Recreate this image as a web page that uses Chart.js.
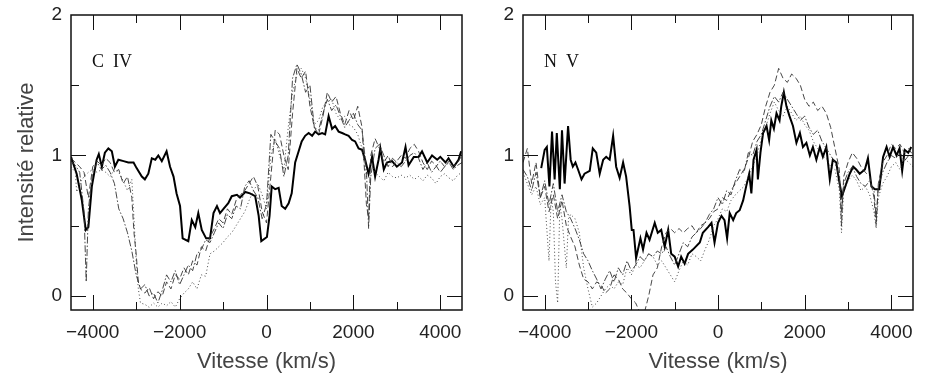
<!DOCTYPE html>
<html>
<head>
<meta charset="utf-8">
<script src="https://cdn.jsdelivr.net/npm/chart.js@4.4.1/dist/chart.umd.min.js"></script>
<style>
  html, body { margin: 0; padding: 0; background: #fff; }
  .panel { position: absolute; top: 0; width: 465px; height: 383px; }
  #left { left: 0; }
  #right { left: 465px; }
</style>
</head>
<body>
<div class="panel" id="left"><canvas id="civChart" width="465" height="383"></canvas></div>
<div class="panel" id="right"><canvas id="nvChart" width="465" height="383"></canvas></div>
<script>
// Axis ticks
const xTicks = [-4000, -2000, 0, 2000, 4000];
const yTicks = [0, 1, 2];
const xTickMarks = [-4000, -3000, -2000, -1000, 0, 1000, 2000, 3000, 4000];
const yTickMarks = [0, 0.5, 1, 1.5];

// C IV : [vitesse, intensite]
const civThick = [[-4500,0.99],[-4370,0.87],[-4250,0.68],[-4160,0.47],[-4100,0.49],[-4020,0.78],[-3910,0.97],[-3860,1.01],[-3790,0.92],[-3720,1.02],[-3640,1.05],[-3560,1.03],[-3490,0.92],[-3410,0.97],[-3290,0.96],[-3180,0.95],[-3060,0.95],[-2990,0.91],[-2870,0.85],[-2800,0.83],[-2720,0.87],[-2640,0.98],[-2560,0.97],[-2490,1.0],[-2410,0.96],[-2300,1.03],[-2220,0.92],[-2140,0.85],[-2070,0.73],[-1990,0.64],[-1930,0.41],[-1800,0.39],[-1720,0.54],[-1640,0.49],[-1570,0.59],[-1490,0.47],[-1390,0.41],[-1300,0.41],[-1220,0.59],[-1140,0.64],[-1070,0.59],[-990,0.62],[-880,0.66],[-800,0.71],[-680,0.72],[-610,0.70],[-490,0.74],[-380,0.73],[-260,0.71],[-180,0.57],[-120,0.39],[10,0.42],[70,0.57],[120,0.78],[200,0.76],[280,0.77],[350,0.64],[430,0.62],[510,0.66],[580,0.73],[660,0.95],[740,1.03],[810,1.10],[890,1.14],[970,1.16],[1050,1.14],[1120,1.17],[1200,1.15],[1280,1.16],[1350,1.15],[1430,1.28],[1510,1.19],[1580,1.21],[1660,1.17],[1740,1.16],[1810,1.15],[1890,1.14],[1970,1.11],[2040,1.10],[2120,1.05],[2200,1.04],[2270,0.97],[2350,0.87],[2430,0.99],[2500,0.85],[2580,0.97],[2620,1.05],[2700,0.90],[2770,0.95],[2890,0.96],[3000,0.92],[3120,0.95],[3200,1.06],[3270,0.93],[3390,0.99],[3500,0.99],[3580,1.03],[3700,0.95],[3810,1.00],[3930,0.97],[4000,0.99],[4120,0.95],[4190,0.98],[4310,0.92],[4420,0.97],[4480,1.03]];

const civDashDot = [[-4500,0.96],[-4400,0.93],[-4300,0.88],[-4200,0.60],[-4150,0.10],[-4100,0.62],[-4000,0.88],[-3900,0.95],[-3800,0.90],[-3700,0.93],[-3600,0.88],[-3500,0.80],[-3400,0.62],[-3300,0.55],[-3200,0.45],[-3100,0.32],[-3000,0.15],[-2900,0.05],[-2800,0.08],[-2700,0.00],[-2600,0.02],[-2500,-0.05],[-2400,0.04],[-2300,0.15],[-2200,0.10],[-2100,0.18],[-2000,0.08],[-1900,0.15],[-1800,0.22],[-1700,0.18],[-1600,0.30],[-1500,0.33],[-1400,0.40],[-1300,0.38],[-1200,0.45],[-1100,0.52],[-1000,0.48],[-900,0.58],[-800,0.55],[-700,0.64],[-600,0.62],[-500,0.78],[-400,0.82],[-300,0.75],[-200,0.70],[-100,0.55],[0,0.65],[100,1.15],[200,1.10],[300,1.05],[400,0.85],[500,1.00],[600,1.55],[700,1.65],[800,1.58],[900,1.45],[1000,1.50],[1100,1.20],[1200,1.18],[1300,1.30],[1400,1.40],[1500,1.32],[1600,1.36],[1700,1.28],[1800,1.20],[1900,1.25],[2000,1.30],[2100,1.22],[2200,1.18],[2300,0.90],[2350,0.48],[2400,0.85],[2500,1.05],[2600,1.08],[2700,1.00],[2800,0.92],[2900,0.98],[3000,0.95],[3100,0.92],[3200,0.96],[3300,1.00],[3400,1.02],[3500,0.98],[3600,0.90],[3700,0.95],[3800,0.88],[3900,0.92],[4000,0.96],[4100,0.92],[4200,0.95],[4300,0.90],[4400,0.93],[4500,0.95]];

const civDashed = [[-4500,0.98],[-4400,0.95],[-4300,0.92],[-4200,0.88],[-4100,0.70],[-4000,0.92],[-3900,0.96],[-3800,0.93],[-3700,0.98],[-3600,0.95],[-3500,0.88],[-3400,0.90],[-3300,0.80],[-3200,0.85],[-3100,0.70],[-3050,0.45],[-3000,0.30],[-2950,0.10],[-2900,0.05],[-2800,0.02],[-2700,0.06],[-2600,-0.02],[-2500,0.03],[-2400,0.00],[-2300,0.10],[-2200,0.05],[-2100,0.15],[-2000,0.12],[-1900,0.20],[-1800,0.15],[-1700,0.25],[-1600,0.22],[-1500,0.35],[-1400,0.32],[-1300,0.42],[-1200,0.48],[-1100,0.55],[-1000,0.52],[-900,0.62],[-800,0.58],[-700,0.68],[-600,0.72],[-500,0.75],[-400,0.80],[-300,0.85],[-200,0.78],[-100,0.60],[0,0.52],[100,0.85],[200,1.18],[300,1.15],[400,1.00],[500,0.90],[600,1.30],[700,1.62],[800,1.55],[900,1.60],[1000,1.35],[1100,1.20],[1200,1.15],[1300,1.28],[1400,1.45],[1500,1.38],[1600,1.42],[1700,1.30],[1800,1.22],[1900,1.32],[2000,1.25],[2100,1.35],[2200,1.20],[2300,0.65],[2350,0.55],[2400,1.00],[2500,1.12],[2600,1.05],[2700,0.95],[2800,1.00],[2900,0.92],[3000,0.96],[3100,1.00],[3200,0.98],[3300,1.05],[3400,1.08],[3500,1.03],[3600,0.95],[3700,0.90],[3800,0.96],[3900,0.93],[4000,0.88],[4100,0.92],[4200,0.96],[4300,0.92],[4400,0.95],[4500,1.00]];

const civDotted = [[-4500,0.92],[-4400,0.88],[-4370,0.74],[-4300,0.80],[-4200,0.85],[-4100,0.88],[-4000,0.90],[-3900,0.88],[-3800,0.90],[-3700,0.88],[-3600,0.85],[-3500,0.90],[-3400,0.88],[-3300,0.82],[-3200,0.75],[-3100,0.83],[-3050,0.55],[-3000,0.25],[-2950,0.05],[-2900,-0.05],[-2800,-0.06],[-2700,-0.08],[-2600,-0.05],[-2500,-0.08],[-2400,-0.05],[-2300,-0.07],[-2200,-0.04],[-2100,-0.08],[-2000,-0.02],[-1900,0.02],[-1800,0.05],[-1700,0.10],[-1600,0.05],[-1500,0.15],[-1400,0.14],[-1300,0.30],[-1200,0.32],[-1100,0.35],[-1000,0.38],[-900,0.42],[-800,0.45],[-700,0.50],[-600,0.55],[-500,0.60],[-400,0.68],[-300,0.75],[-200,0.80],[-100,0.72],[0,0.62],[100,1.00],[200,1.12],[300,1.00],[400,0.90],[500,1.20],[600,1.45],[700,1.58],[800,1.62],[900,1.55],[1000,1.40],[1100,1.22],[1200,1.25],[1300,1.35],[1400,1.38],[1500,1.40],[1600,1.30],[1700,1.25],[1800,1.28],[1900,1.22],[2000,1.20],[2100,1.15],[2200,1.05],[2300,0.85],[2400,0.95],[2500,0.88],[2600,0.85],[2700,0.82],[2800,0.88],[2900,0.85],[3000,0.84],[3100,0.86],[3200,0.84],[3300,0.86],[3400,0.83],[3500,0.85],[3600,0.82],[3700,0.86],[3800,0.84],[3900,0.80],[4000,0.85],[4100,0.87],[4200,0.84],[4300,0.82],[4400,0.86],[4500,0.88]];

// N V : [vitesse, intensite]
const nvThick = [[-4080,0.91],[-4000,1.04],[-3950,1.06],[-3890,0.78],[-3830,1.17],[-3770,0.83],[-3720,1.16],[-3650,0.76],[-3600,1.18],[-3540,0.80],[-3460,1.21],[-3400,0.97],[-3350,0.92],[-3290,0.95],[-3230,0.90],[-3150,0.83],[-3080,0.87],[-2960,0.89],[-2890,1.05],[-2810,1.02],[-2730,0.87],[-2650,0.97],[-2580,0.99],[-2500,0.97],[-2420,1.14],[-2350,0.92],[-2270,0.84],[-2190,0.95],[-2120,0.85],[-2040,0.64],[-1990,0.47],[-1950,0.47],[-1890,0.27],[-1790,0.41],[-1730,0.33],[-1650,0.45],[-1580,0.40],[-1460,0.52],[-1390,0.45],[-1310,0.47],[-1230,0.35],[-1150,0.47],[-1080,0.30],[-1000,0.28],[-920,0.21],[-850,0.28],[-770,0.23],[-690,0.30],[-580,0.33],[-420,0.38],[-350,0.45],[-230,0.49],[-150,0.52],[-80,0.38],[0,0.52],[80,0.57],[150,0.54],[210,0.41],[270,0.59],[350,0.54],[420,0.59],[500,0.61],[580,0.68],[650,0.78],[720,0.87],[770,0.73],[820,0.97],[890,1.04],[920,0.83],[980,1.02],[1040,1.16],[1120,1.21],[1180,1.11],[1230,1.25],[1290,1.19],[1350,1.30],[1420,1.25],[1460,1.35],[1520,1.45],[1580,1.35],[1650,1.28],[1730,1.21],[1810,1.09],[1890,1.16],[1960,1.06],[2040,1.09],[2120,1.00],[2190,1.06],[2270,0.97],[2350,1.06],[2420,0.99],[2500,1.06],[2580,0.83],[2650,0.97],[2730,0.95],[2790,0.83],[2860,0.71],[2960,0.80],[3040,0.87],[3120,0.92],[3190,0.90],[3270,0.87],[3390,0.90],[3460,0.98],[3540,0.78],[3620,0.76],[3720,0.76],[3810,0.99],[3890,1.06],[3960,0.99],[4040,1.06],[4120,1.00],[4190,1.05],[4250,0.89],[4310,1.04],[4390,1.02],[4460,1.06]];

const nvDashed = [[-4500,0.95],[-4400,1.05],[-4300,0.80],[-4200,0.95],[-4100,0.70],[-4000,0.78],[-3900,0.60],[-3800,0.72],[-3700,0.55],[-3600,0.68],[-3500,0.50],[-3400,0.42],[-3300,0.35],[-3200,0.22],[-3100,0.12],[-3000,0.10],[-2900,0.05],[-2800,0.10],[-2700,0.08],[-2600,0.02],[-2500,0.05],[-2400,0.15],[-2300,0.12],[-2200,0.05],[-2100,0.02],[-2000,-0.02],[-1900,-0.05],[-1800,-0.12],[-1700,-0.12],[-1600,0.00],[-1500,0.15],[-1400,0.20],[-1300,0.35],[-1200,0.45],[-1100,0.48],[-1000,0.45],[-900,0.48],[-800,0.45],[-700,0.48],[-600,0.50],[-500,0.45],[-400,0.50],[-300,0.52],[-200,0.55],[-100,0.60],[0,0.62],[100,0.70],[200,0.68],[300,0.75],[400,0.80],[500,0.85],[600,0.90],[700,0.98],[800,1.10],[900,1.15],[1000,1.22],[1100,1.35],[1200,1.45],[1300,1.50],[1400,1.62],[1500,1.55],[1600,1.52],[1700,1.58],[1800,1.55],[1900,1.50],[2000,1.40],[2100,1.35],[2200,1.38],[2300,1.32],[2400,1.35],[2500,1.30],[2600,1.20],[2700,1.05],[2800,0.90],[2850,0.50],[2900,0.85],[3000,0.95],[3100,1.02],[3200,0.98],[3300,0.92],[3400,0.88],[3500,0.85],[3600,0.70],[3650,0.50],[3700,0.80],[3800,0.95],[3900,1.00],[4000,1.08],[4100,1.05],[4200,1.08],[4300,1.02],[4400,1.05],[4500,1.00]];

const nvDashDot = [[-4500,0.90],[-4400,0.85],[-4300,0.75],[-4200,0.88],[-4100,0.70],[-4000,0.82],[-3900,0.65],[-3800,0.80],[-3700,0.60],[-3600,0.72],[-3500,0.60],[-3400,0.55],[-3300,0.48],[-3200,0.40],[-3100,0.30],[-3000,0.25],[-2900,0.18],[-2800,0.12],[-2700,0.05],[-2600,0.12],[-2500,0.18],[-2400,0.10],[-2300,0.20],[-2200,0.15],[-2100,0.25],[-2000,0.18],[-1900,0.22],[-1800,0.28],[-1700,0.25],[-1600,0.30],[-1500,0.28],[-1400,0.32],[-1300,0.30],[-1200,0.35],[-1100,0.28],[-1000,0.22],[-900,0.30],[-800,0.38],[-700,0.35],[-600,0.42],[-500,0.45],[-400,0.48],[-300,0.52],[-200,0.58],[-100,0.62],[0,0.70],[100,0.65],[200,0.75],[300,0.72],[400,0.82],[500,0.90],[600,0.88],[700,1.02],[800,1.00],[900,1.10],[1000,1.15],[1100,1.25],[1200,1.35],[1300,1.42],[1400,1.38],[1500,1.45],[1600,1.40],[1700,1.35],[1800,1.30],[1900,1.25],[2000,1.28],[2100,1.20],[2200,1.15],[2300,1.18],[2400,1.10],[2500,1.05],[2600,1.00],[2700,0.95],[2800,0.85],[2850,0.60],[2900,0.80],[3000,0.88],[3100,0.92],[3200,0.85],[3300,0.80],[3400,0.78],[3500,0.82],[3600,0.75],[3650,0.55],[3700,0.78],[3800,0.88],[3900,0.95],[4000,1.00],[4100,0.98],[4200,1.02],[4300,0.96],[4400,1.00],[4500,0.98]];

const nvDotted = [[-4500,0.88],[-4400,0.80],[-4300,0.72],[-4200,0.78],[-4100,0.65],[-4000,0.70],[-3900,0.25],[-3850,0.70],[-3800,0.60],[-3750,0.10],[-3700,-0.05],[-3650,0.65],[-3600,0.55],[-3500,0.20],[-3450,0.55],[-3400,0.58],[-3300,0.55],[-3200,0.45],[-3100,0.20],[-3000,0.05],[-2900,-0.08],[-2800,-0.05],[-2700,0.00],[-2600,0.05],[-2500,0.08],[-2400,0.05],[-2300,0.10],[-2200,0.08],[-2100,0.20],[-2000,0.15],[-1900,0.22],[-1800,0.20],[-1700,0.25],[-1600,0.30],[-1500,0.28],[-1400,0.22],[-1300,0.25],[-1200,0.20],[-1100,0.15],[-1000,0.10],[-900,0.18],[-800,0.25],[-700,0.22],[-600,0.30],[-500,0.28],[-400,0.25],[-300,0.33],[-200,0.40],[-100,0.50],[0,0.55],[100,0.62],[200,0.60],[300,0.68],[400,0.72],[500,0.75],[600,0.78],[700,0.85],[800,0.92],[900,1.00],[1000,1.12],[1100,1.20],[1200,1.30],[1300,1.38],[1400,1.32],[1500,1.28],[1600,1.35],[1700,1.30],[1800,1.25],[1900,1.28],[2000,1.22],[2100,1.18],[2200,1.10],[2300,1.05],[2400,1.00],[2500,0.98],[2600,0.92],[2700,0.90],[2800,0.75],[2850,0.45],[2900,0.75],[3000,0.82],[3100,0.86],[3200,0.82],[3300,0.75],[3400,0.78],[3500,0.72],[3600,0.60],[3650,0.48],[3700,0.70],[3800,0.80],[3900,0.85],[4000,0.92],[4100,0.95],[4200,0.90],[4300,0.98],[4400,0.95],[4500,0.92]];

const toPoints = (pairs) => pairs.map(p => ({ x: p[0], y: p[1] }));
const fmtTick = (v) => v < 0 ? '\u2212' + Math.abs(v) : String(v);

// frame, inside tick marks and the ion label
const framePlugin = {
    id: 'frame',
    afterDatasetsDraw(chart, args, opts) {
        const { ctx, chartArea: a, scales } = chart;
        const x = scales.x, y = scales.y;
        ctx.save();
        ctx.strokeStyle = '#111';
        ctx.lineWidth = 1;
        ctx.beginPath();
        xTickMarks.forEach(v => {
            const px = Math.round(x.getPixelForValue(v)) + 0.5;
            const len = xTicks.includes(v) ? 15 : 8;
            ctx.moveTo(px, a.bottom); ctx.lineTo(px, a.bottom - len);
            ctx.moveTo(px, a.top); ctx.lineTo(px, a.top + len);
        });
        yTickMarks.forEach(v => {
            const py = Math.round(y.getPixelForValue(v)) + 0.5;
            const len = yTicks.includes(v) ? 15 : 8;
            ctx.moveTo(a.left, py); ctx.lineTo(a.left + len, py);
            ctx.moveTo(a.right, py); ctx.lineTo(a.right - len, py);
        });
        ctx.stroke();
        ctx.lineWidth = 1.5;
        ctx.strokeRect(a.left, a.top, a.right - a.left, a.bottom - a.top);
        ctx.fillStyle = '#111';
        ctx.font = '18px "Liberation Serif", "DejaVu Serif", serif';
        ctx.textBaseline = 'alphabetic';
        ctx.fillText(opts.label, a.left + 21, a.top + 52);
        ctx.restore();
    }
};

function thinLine(pairs, dash) {
    return {
        data: toPoints(pairs),
        borderColor: '#333',
        borderWidth: 0.9,
        borderDash: dash,
        pointRadius: 0,
        tension: 0
    };
}

function makePanel(id, label, thick, dashed, dashDot, dotted, yWidth, rightPad, showYTitle) {
    const ctx = document.getElementById(id).getContext('2d');
    return new Chart(ctx, {
        type: 'line',
        data: {
            datasets: [
                thinLine(dotted, [1, 2.5]),
                thinLine(dashDot, [7, 2, 1.5, 2]),
                thinLine(dashed, [6, 3]),
                {
                    data: toPoints(thick),
                    borderColor: '#000',
                    borderWidth: 2,
                    pointRadius: 0,
                    tension: 0
                }
            ]
        },
        options: {
            responsive: false,
            animation: false,
            devicePixelRatio: 1,
            layout: { padding: { top: 15, right: rightPad, left: 0, bottom: 0 } },
            plugins: {
                legend: { display: false },
                tooltip: { enabled: false },
                frame: { label: label }
            },
            scales: {
                x: {
                    type: 'linear',
                    min: -4500,
                    max: 4500,
                    afterBuildTicks: (s) => { s.ticks = xTicks.map(v => ({ value: v })); },
                    afterFit: (s) => { s.height = 73; s.paddingLeft = 0; s.paddingRight = 0; },
                    grid: { display: false, drawTicks: false },
                    border: { display: false },
                    ticks: {
                        padding: 11,
                        color: '#222',
                        font: { family: '"Liberation Sans", Arial, sans-serif', size: 19 },
                        callback: fmtTick,
                        maxRotation: 0
                    },
                    title: {
                        display: true,
                        text: 'Vitesse (km/s)',
                        color: '#444',
                        padding: { top: 0, bottom: 8 },
                        font: { family: '"Liberation Sans", Arial, sans-serif', size: 22 }
                    }
                },
                y: {
                    type: 'linear',
                    min: -0.1,
                    max: 2,
                    afterBuildTicks: (s) => { s.ticks = yTicks.map(v => ({ value: v })); },
                    afterFit: (s) => { s.width = yWidth; s.paddingTop = 0; s.paddingBottom = 0; },
                    grid: { display: false, drawTicks: false },
                    border: { display: false },
                    ticks: {
                        padding: 9,
                        color: '#222',
                        font: { family: '"Liberation Sans", Arial, sans-serif', size: 19 },
                        callback: fmtTick
                    },
                    title: {
                        display: showYTitle,
                        text: 'Intensité relative',
                        color: '#444',
                        padding: { top: 14, bottom: 0 },
                        font: { family: '"Liberation Sans", Arial, sans-serif', size: 22 }
                    }
                }
            }
        },
        plugins: [framePlugin]
    });
}

makePanel('civChart', 'C  IV', civThick, civDashed, civDashDot, civDotted, 71, 3, true);
makePanel('nvChart', 'N  V', nvThick, nvDashed, nvDashDot, nvDotted, 58, 17, false);
</script>
</body>
</html>
